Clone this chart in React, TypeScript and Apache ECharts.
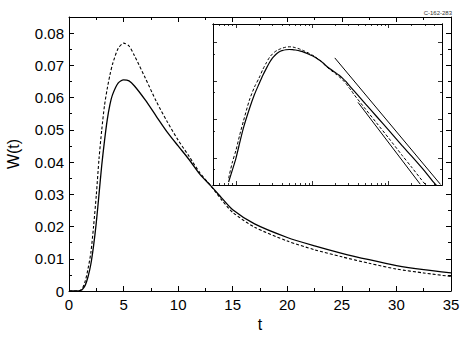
import React, { useEffect, useRef } from "react";
import * as echarts from "echarts";

// ---- data ----
const tValues = [0, 0.5, 0.8, 0.9, 1.0, 1.12, 1.25, 1.5, 1.75, 2.0, 2.25, 2.5, 2.75, 3.0, 3.25, 3.5, 3.75, 4.0, 4.5, 5.0, 5.5, 6.0, 7, 8, 9, 10, 11, 12, 13, 14, 15, 17, 20, 22.5, 25, 27.5, 30, 32.5, 35];
const wSolid = [0, 0, 0.000024, 0.00005, 0.0001, 0.00025, 0.0006, 0.0019, 0.0045, 0.0083, 0.014, 0.0212, 0.03, 0.039, 0.0465, 0.053, 0.0578, 0.061, 0.0645, 0.0655, 0.0652, 0.0636, 0.0592, 0.0542, 0.0493, 0.045, 0.0408, 0.0362, 0.0326, 0.0288, 0.0252, 0.0208, 0.0166, 0.014, 0.0117, 0.0097, 0.0079, 0.0066, 0.0056];
const wDashed = [0, 0, 0.00003, 0.00008, 0.00016, 0.0004, 0.0009, 0.0032, 0.007, 0.0118, 0.02, 0.0297, 0.041, 0.05, 0.0575, 0.0627, 0.067, 0.0705, 0.0752, 0.0769, 0.076, 0.073, 0.066, 0.0588, 0.0525, 0.0468, 0.0418, 0.0366, 0.0326, 0.0282, 0.0244, 0.0198, 0.0155, 0.0128, 0.0106, 0.0086, 0.0068, 0.0056, 0.0045];

// long-time tail shown only in the log-log inset
const tTail = [50, 70, 100, 150, 200, 300, 400, 500];
const wSolidTail = [0.0025, 0.00118, 0.00053, 0.00021, 0.000112, 0.0000446, 0.000022, 0.000014];
const wDashedTail = [0.00184, 0.0008, 0.00033, 0.000118, 0.000058, 0.000021, 0.000011, 0.0000065];

// asymptotic straight lines in the inset: [t, W] end points
const asymptoteA = [[19.7, 0.0396], [478, 0.0000207]];
const asymptoteB = [[39.7, 0.00278], [259, 0.000021]];

// inset tick values
const insetMajorX = [1, 10, 100];
const insetMinorX = [0.6, 0.7, 0.8, 0.9, 2, 3, 4, 5, 6, 7, 8, 9, 20, 30, 40, 50, 60, 70, 80, 90, 200, 300, 400];
const insetMajorY = [0.0001, 0.001, 0.01, 0.1];
const insetMinorY = [0.00005, 0.0005, 0.005, 0.05];

const stampText = "C-162-283";
const xName = "t";
const yName = "W(t)";

const FONT = "'Liberation Sans', Arial, Helvetica, sans-serif";
const BLACK = "#000";

function pairs(ts: number[], ws: number[]) {
  return ts.map((t, i) => [t, ws[i]]);
}

function insetData(ws: number[], tail: number[]) {
  const head = pairs(tValues, ws).filter((p) => p[0] >= 0.8 && p[1] > 0);
  return head.concat(pairs(tTail, tail));
}

const axisLine = () => ({ show: true, onZero: false, lineStyle: { color: BLACK, width: 1 } });
const hidden = () => ({ show: false });

function mainX(position: string, labels: boolean): any {
  return {
    gridIndex: 0,
    type: "value",
    position,
    min: 0,
    max: 35,
    interval: 5,
    axisLine: axisLine(),
    axisTick: { show: true, inside: true, length: 5, lineStyle: { color: BLACK, width: 1 } },
    minorTick: { show: true, splitNumber: 2, length: 3, lineStyle: { color: BLACK, width: 1 } },
    splitLine: hidden(),
    minorSplitLine: hidden(),
    axisLabel: labels
      ? { show: true, color: BLACK, fontSize: 15, margin: 6, fontFamily: FONT }
      : hidden(),
  };
}

function mainY(position: string, labels: boolean): any {
  return {
    gridIndex: 0,
    type: "value",
    position,
    min: 0,
    max: 0.085,
    interval: 0.01,
    axisLine: axisLine(),
    axisTick: { show: true, inside: true, length: 5, lineStyle: { color: BLACK, width: 1 } },
    minorTick: { show: true, splitNumber: 2, length: 3, lineStyle: { color: BLACK, width: 1 } },
    splitLine: hidden(),
    minorSplitLine: hidden(),
    axisLabel: labels
      ? {
          show: true,
          color: BLACK,
          fontSize: 15,
          margin: 5,
          fontFamily: FONT,
          showMaxLabel: false,
          formatter: (v: number) => (v === 0 ? "0" : v > 0.0805 ? "" : v.toFixed(2)),
        }
      : hidden(),
  };
}

function insetAxis(kind: "x" | "y", position: string, ticks: number[], len: number): any {
  return {
    gridIndex: 1,
    type: "log",
    logBase: 10,
    position,
    min: kind === "x" ? 0.5 : 0.00002,
    max: kind === "x" ? 500 : 0.3,
    axisLine: axisLine(),
    axisTick: { show: true, inside: true, length: len, customValues: ticks, lineStyle: { color: BLACK, width: 0.8 } },
    minorTick: hidden(),
    splitLine: hidden(),
    axisLabel: hidden(),
  };
}

export default function App() {
  const ref = useRef<HTMLDivElement>(null);

  useEffect(() => {
    if (!ref.current) return;
    const chart = echarts.init(ref.current, undefined, { renderer: "svg" });

    const xBottom = mainX("bottom", true);
    xBottom.name = xName;
    xBottom.nameLocation = "middle";
    xBottom.nameGap = 18;
    xBottom.nameTextStyle = { color: BLACK, fontSize: 16, fontFamily: FONT };

    const yLeft = mainY("left", true);
    yLeft.name = yName;
    yLeft.nameLocation = "middle";
    yLeft.nameGap = 48;
    yLeft.nameTextStyle = { color: BLACK, fontSize: 16, fontFamily: FONT };

    const option: any = {
      animation: false,
      backgroundColor: "#fff",
      textStyle: { fontFamily: FONT },
      grid: [
        { left: 69, right: 18, top: 17, bottom: 48, containLabel: false, outerBoundsMode: "none" },
        { left: 213, right: 27, top: 24, bottom: 154, containLabel: false, outerBoundsMode: "none" },
      ],
      xAxis: [
        xBottom,
        mainX("top", false),
        insetAxis("x", "bottom", insetMajorX, 4),
        insetAxis("x", "bottom", insetMinorX, 2),
        insetAxis("x", "top", insetMajorX, 4),
        insetAxis("x", "top", insetMinorX, 2),
      ],
      yAxis: [
        yLeft,
        mainY("right", false),
        insetAxis("y", "left", insetMajorY, 4),
        insetAxis("y", "left", insetMinorY, 2),
        insetAxis("y", "right", insetMajorY, 4),
        insetAxis("y", "right", insetMinorY, 2),
      ],
      graphic: [
        {
          type: "text",
          right: 17,
          top: 10,
          style: { text: stampText, fontSize: 6, fill: "#333", fontFamily: FONT },
        },
      ],
      series: [
        {
          type: "line",
          xAxisIndex: 0,
          yAxisIndex: 0,
          data: pairs(tValues, wSolid),
          symbol: "none",
          smooth: 0.25,
          lineStyle: { color: BLACK, width: 1.3 },
        },
        {
          type: "line",
          xAxisIndex: 0,
          yAxisIndex: 0,
          data: pairs(tValues, wDashed),
          symbol: "none",
          smooth: 0.25,
          lineStyle: { color: BLACK, width: 1.1, type: [3, 2] },
        },
        {
          type: "line",
          xAxisIndex: 2,
          yAxisIndex: 2,
          data: insetData(wSolid, wSolidTail),
          symbol: "none",
          smooth: 0.25,
          lineStyle: { color: BLACK, width: 1.2 },
        },
        {
          type: "line",
          xAxisIndex: 2,
          yAxisIndex: 2,
          data: insetData(wDashed, wDashedTail),
          symbol: "none",
          smooth: 0.25,
          lineStyle: { color: BLACK, width: 1, type: [3, 2] },
        },
        {
          type: "line",
          xAxisIndex: 2,
          yAxisIndex: 2,
          data: asymptoteA,
          symbol: "none",
          lineStyle: { color: BLACK, width: 1 },
        },
        {
          type: "line",
          xAxisIndex: 2,
          yAxisIndex: 2,
          data: asymptoteB,
          symbol: "none",
          lineStyle: { color: BLACK, width: 1 },
        },
      ],
    };

    chart.setOption(option);
    return () => chart.dispose();
  }, []);

  return (
    <div
      ref={ref}
      style={{ position: "absolute", left: 0, top: 0, width: 469, height: 339, background: "#fff" }}
    />
  );
}
